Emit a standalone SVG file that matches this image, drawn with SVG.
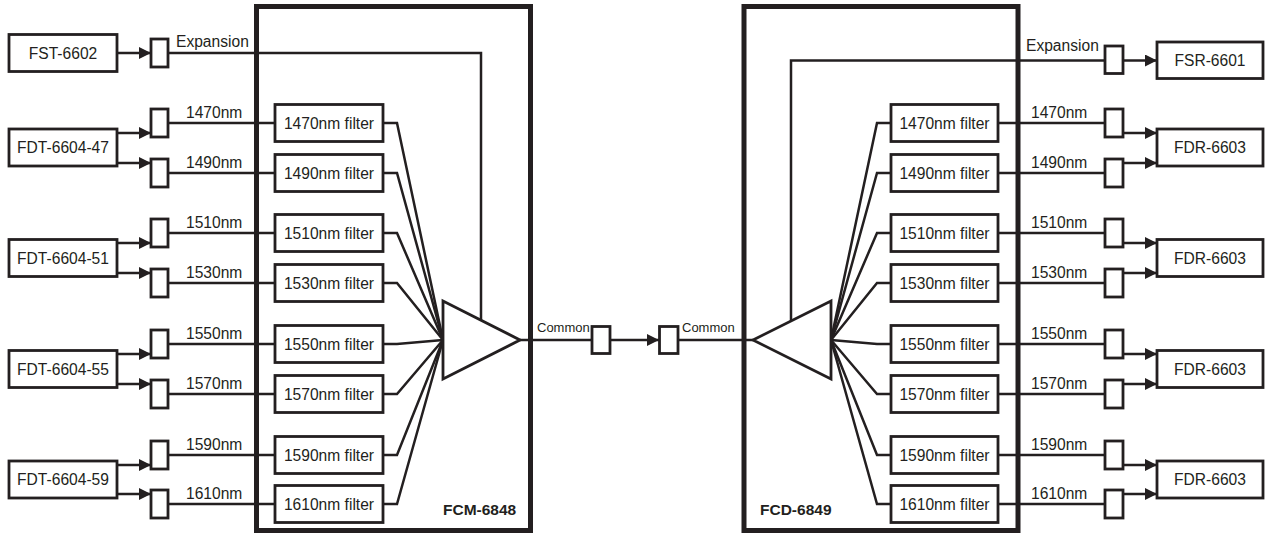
<svg xmlns="http://www.w3.org/2000/svg" width="1265" height="536" viewBox="0 0 1265 536">
<style>
.bg{fill:#fff}
.big{fill:none;stroke:#231f20;stroke-width:5}
.box{fill:#fff;stroke:#231f20;stroke-width:2.8}
.ln{fill:none;stroke:#231f20;stroke-width:2.5}
.arr{fill:none;stroke:#231f20;stroke-width:2.5;marker-end:url(#ah)}
.t{font-family:"Liberation Sans",Arial,sans-serif;font-size:15.6px;fill:#231f20}
.c{text-anchor:middle}
.s{font-size:13px}
.b{font-weight:bold;font-size:15.5px}
</style>
<defs>
<marker id="ah" markerUnits="userSpaceOnUse" markerWidth="13" markerHeight="12" refX="12" refY="6" orient="auto">
<path d="M0,0 L12,6 L0,12 z" fill="#231f20"/>
</marker>
</defs>
<rect class="bg" x="0" y="0" width="1265" height="536"/>

<g id="FCM-6848">
<rect class="big" x="256.5" y="6.5" width="274" height="524"/>
<text class="t b" x="443" y="515">FCM-6848</text>
</g>
<g id="FCD-6849">
<rect class="big" x="744" y="6.5" width="274" height="524"/>
<text class="t b" x="760" y="515">FCD-6849</text>
</g>

<g id="connectors">
<path class="arr" d="M117,53 H151"/>
<path class="ln" d="M168,53 H481 V320"/>
<path class="arr" d="M117,133 H151"/>
<path class="arr" d="M117,163 H151"/>
<path class="arr" d="M117,243 H151"/>
<path class="arr" d="M117,273 H151"/>
<path class="arr" d="M117,354 H151"/>
<path class="arr" d="M117,384 H151"/>
<path class="arr" d="M117,465 H151"/>
<path class="arr" d="M117,494 H151"/>
<path class="ln" d="M168,123 H275"/>
<path class="ln" d="M168,173 H275"/>
<path class="ln" d="M168,233 H275"/>
<path class="ln" d="M168,283 H275"/>
<path class="ln" d="M168,344 H275"/>
<path class="ln" d="M168,394 H275"/>
<path class="ln" d="M168,455 H275"/>
<path class="ln" d="M168,504 H275"/>
<path class="ln" d="M383,123 H397 L443,340"/>
<path class="ln" d="M383,173 H397 L443,340"/>
<path class="ln" d="M383,233 H397 L443,340"/>
<path class="ln" d="M383,283 H397 L443,340"/>
<path class="ln" d="M383,344 H397 L443,340"/>
<path class="ln" d="M383,394 H397 L443,340"/>
<path class="ln" d="M383,455 H397 L443,340"/>
<path class="ln" d="M383,504 H397 L443,340"/>
<path class="ln" d="M520,340 H592"/>
<path class="arr" d="M610,340 H659"/>
<path class="ln" d="M678,340 H753"/>
<path class="ln" d="M891,123 H877 L831,340"/>
<path class="ln" d="M891,173 H877 L831,340"/>
<path class="ln" d="M891,233 H877 L831,340"/>
<path class="ln" d="M891,283 H877 L831,340"/>
<path class="ln" d="M891,344 H877 L831,340"/>
<path class="ln" d="M891,394 H877 L831,340"/>
<path class="ln" d="M891,455 H877 L831,340"/>
<path class="ln" d="M891,504 H877 L831,340"/>
<path class="ln" d="M1105,60.5 H791 V321"/>
<path class="arr" d="M1123,60.5 H1157"/>
<path class="ln" d="M998,123 H1105"/>
<path class="ln" d="M998,173 H1105"/>
<path class="ln" d="M998,233 H1105"/>
<path class="ln" d="M998,283 H1105"/>
<path class="ln" d="M998,344 H1105"/>
<path class="ln" d="M998,394 H1105"/>
<path class="ln" d="M998,455 H1105"/>
<path class="ln" d="M998,504 H1105"/>
<path class="arr" d="M1123,133 H1157"/>
<path class="arr" d="M1123,163 H1157"/>
<path class="arr" d="M1123,243 H1157"/>
<path class="arr" d="M1123,273 H1157"/>
<path class="arr" d="M1123,354 H1157"/>
<path class="arr" d="M1123,384 H1157"/>
<path class="arr" d="M1123,465 H1157"/>
<path class="arr" d="M1123,494 H1157"/>
</g>

<g id="labels">
<text class="t" x="176" y="47">Expansion</text>
<text class="t" x="186" y="118">1470nm</text>
<text class="t" x="186" y="168">1490nm</text>
<text class="t" x="186" y="228">1510nm</text>
<text class="t" x="186" y="278">1530nm</text>
<text class="t" x="186" y="339">1550nm</text>
<text class="t" x="186" y="389">1570nm</text>
<text class="t" x="186" y="450">1590nm</text>
<text class="t" x="186" y="499">1610nm</text>
<text class="t s" x="537" y="332">Common</text>
<text class="t s" x="682" y="332">Common</text>
<text class="t" x="1026" y="51">Expansion</text>
<text class="t" x="1031" y="118">1470nm</text>
<text class="t" x="1031" y="168">1490nm</text>
<text class="t" x="1031" y="228">1510nm</text>
<text class="t" x="1031" y="278">1530nm</text>
<text class="t" x="1031" y="339">1550nm</text>
<text class="t" x="1031" y="389">1570nm</text>
<text class="t" x="1031" y="450">1590nm</text>
<text class="t" x="1031" y="499">1610nm</text>
</g>

<g id="tri-left"><polygon class="box" points="443,301 443,379 520,340"/></g>
<g id="tri-right"><polygon class="box" points="831,301 831,379 753,340"/></g>

<g id="FST-6602"><rect class="box" x="9" y="34.5" width="108" height="37"/><text class="t c" x="63" y="58.5">FST-6602</text></g>
<g id="FDT-6604-47"><rect class="box" x="9" y="129" width="108" height="37"/><text class="t c" x="63" y="153">FDT-6604-47</text></g>
<g id="FDT-6604-51"><rect class="box" x="9" y="239.5" width="108" height="37"/><text class="t c" x="63" y="263.5">FDT-6604-51</text></g>
<g id="FDT-6604-55"><rect class="box" x="9" y="350.5" width="108" height="37"/><text class="t c" x="63" y="374.5">FDT-6604-55</text></g>
<g id="FDT-6604-59"><rect class="box" x="9" y="461" width="108" height="37"/><text class="t c" x="63" y="485">FDT-6604-59</text></g>

<g id="conn-left-exp"><rect class="box" x="151" y="39" width="17" height="28"/></g>
<g id="conn-left-1470"><rect class="box" x="151" y="109" width="17" height="28"/></g>
<g id="conn-left-1490"><rect class="box" x="151" y="159" width="17" height="28"/></g>
<g id="conn-left-1510"><rect class="box" x="151" y="219" width="17" height="28"/></g>
<g id="conn-left-1530"><rect class="box" x="151" y="269" width="17" height="28"/></g>
<g id="conn-left-1550"><rect class="box" x="151" y="330" width="17" height="28"/></g>
<g id="conn-left-1570"><rect class="box" x="151" y="380" width="17" height="28"/></g>
<g id="conn-left-1590"><rect class="box" x="151" y="441" width="17" height="28"/></g>
<g id="conn-left-1610"><rect class="box" x="151" y="490" width="17" height="28"/></g>

<g id="filter-left-1470"><rect class="box" x="275" y="104.5" width="108" height="37"/><text class="t c" x="329" y="128.5">1470nm filter</text></g>
<g id="filter-left-1490"><rect class="box" x="275" y="154.5" width="108" height="37"/><text class="t c" x="329" y="178.5">1490nm filter</text></g>
<g id="filter-left-1510"><rect class="box" x="275" y="214.5" width="108" height="37"/><text class="t c" x="329" y="238.5">1510nm filter</text></g>
<g id="filter-left-1530"><rect class="box" x="275" y="264.5" width="108" height="37"/><text class="t c" x="329" y="288.5">1530nm filter</text></g>
<g id="filter-left-1550"><rect class="box" x="275" y="325.5" width="108" height="37"/><text class="t c" x="329" y="349.5">1550nm filter</text></g>
<g id="filter-left-1570"><rect class="box" x="275" y="375.5" width="108" height="37"/><text class="t c" x="329" y="399.5">1570nm filter</text></g>
<g id="filter-left-1590"><rect class="box" x="275" y="436.5" width="108" height="37"/><text class="t c" x="329" y="460.5">1590nm filter</text></g>
<g id="filter-left-1610"><rect class="box" x="275" y="485.5" width="108" height="37"/><text class="t c" x="329" y="509.5">1610nm filter</text></g>

<g id="conn-common-1"><rect class="box" x="592" y="326.5" width="18" height="27"/></g>
<g id="conn-common-2"><rect class="box" x="659.5" y="326.5" width="18.5" height="27"/></g>

<g id="filter-right-1470"><rect class="box" x="891" y="104.5" width="107" height="37"/><text class="t c" x="944.5" y="128.5">1470nm filter</text></g>
<g id="filter-right-1490"><rect class="box" x="891" y="154.5" width="107" height="37"/><text class="t c" x="944.5" y="178.5">1490nm filter</text></g>
<g id="filter-right-1510"><rect class="box" x="891" y="214.5" width="107" height="37"/><text class="t c" x="944.5" y="238.5">1510nm filter</text></g>
<g id="filter-right-1530"><rect class="box" x="891" y="264.5" width="107" height="37"/><text class="t c" x="944.5" y="288.5">1530nm filter</text></g>
<g id="filter-right-1550"><rect class="box" x="891" y="325.5" width="107" height="37"/><text class="t c" x="944.5" y="349.5">1550nm filter</text></g>
<g id="filter-right-1570"><rect class="box" x="891" y="375.5" width="107" height="37"/><text class="t c" x="944.5" y="399.5">1570nm filter</text></g>
<g id="filter-right-1590"><rect class="box" x="891" y="436.5" width="107" height="37"/><text class="t c" x="944.5" y="460.5">1590nm filter</text></g>
<g id="filter-right-1610"><rect class="box" x="891" y="485.5" width="107" height="37"/><text class="t c" x="944.5" y="509.5">1610nm filter</text></g>

<g id="conn-right-exp"><rect class="box" x="1105" y="46" width="18" height="27.5"/></g>
<g id="conn-right-1470"><rect class="box" x="1105" y="109" width="18" height="28"/></g>
<g id="conn-right-1490"><rect class="box" x="1105" y="159" width="18" height="28"/></g>
<g id="conn-right-1510"><rect class="box" x="1105" y="219" width="18" height="28"/></g>
<g id="conn-right-1530"><rect class="box" x="1105" y="269" width="18" height="28"/></g>
<g id="conn-right-1550"><rect class="box" x="1105" y="330" width="18" height="28"/></g>
<g id="conn-right-1570"><rect class="box" x="1105" y="380" width="18" height="28"/></g>
<g id="conn-right-1590"><rect class="box" x="1105" y="441" width="18" height="28"/></g>
<g id="conn-right-1610"><rect class="box" x="1105" y="490" width="18" height="28"/></g>

<g id="FSR-6601"><rect class="box" x="1157" y="42" width="106" height="36.5"/><text class="t c" x="1210" y="66">FSR-6601</text></g>
<g id="FDR-6603-a"><rect class="box" x="1157" y="129" width="106" height="37"/><text class="t c" x="1210" y="153">FDR-6603</text></g>
<g id="FDR-6603-b"><rect class="box" x="1157" y="239.5" width="106" height="37"/><text class="t c" x="1210" y="263.5">FDR-6603</text></g>
<g id="FDR-6603-c"><rect class="box" x="1157" y="350.5" width="106" height="37"/><text class="t c" x="1210" y="374.5">FDR-6603</text></g>
<g id="FDR-6603-d"><rect class="box" x="1157" y="461" width="106" height="37"/><text class="t c" x="1210" y="485">FDR-6603</text></g>
</svg>
